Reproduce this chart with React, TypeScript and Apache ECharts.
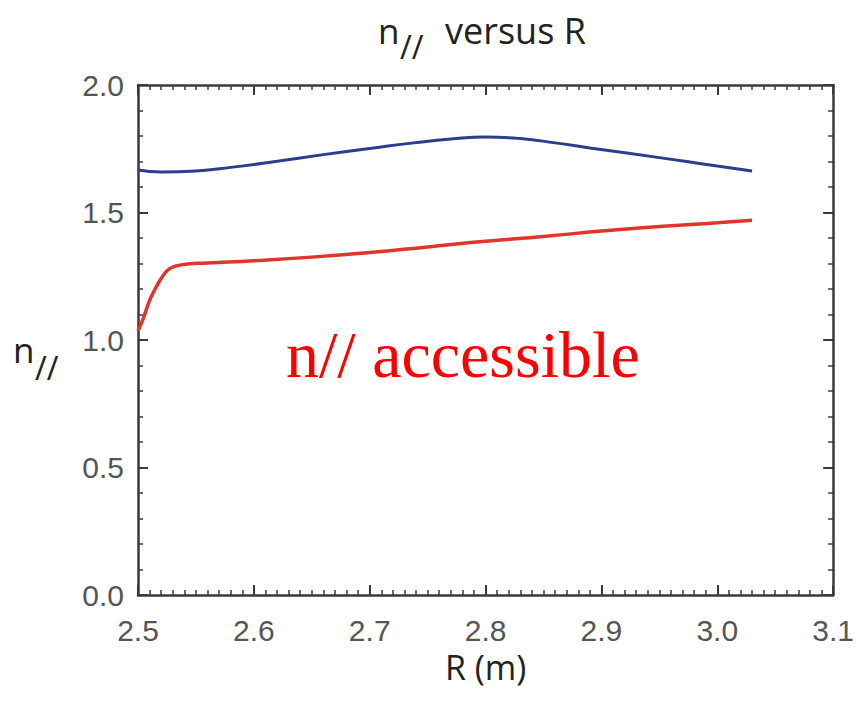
import React, { useEffect, useRef } from "react";
import * as echarts from "echarts";

// Upper (blue) curve: n// versus R
const upperR = [2.5, 2.52, 2.55, 2.58, 2.62, 2.66, 2.7, 2.74, 2.77, 2.8, 2.83, 2.86, 2.89, 2.925, 2.975, 3.0, 3.03];
const upperN = [1.667, 1.659, 1.663, 1.677, 1.701, 1.727, 1.751, 1.774, 1.788, 1.796, 1.79, 1.773, 1.753, 1.731, 1.699, 1.682, 1.663];

// Lower (red) curve: accessibility limit
const lowerR = [2.5, 2.505, 2.51, 2.516, 2.522, 2.527, 2.533, 2.541, 2.56, 2.6, 2.65, 2.7, 2.75, 2.8, 2.85, 2.9, 2.95, 3.0, 3.03];
const lowerN = [1.035, 1.09, 1.155, 1.21, 1.255, 1.279, 1.29, 1.297, 1.302, 1.311, 1.325, 1.343, 1.365, 1.387, 1.406, 1.427, 1.445, 1.46, 1.47];

const xTicks = { min: 2.5, max: 3.1, step: 0.1 };
const yTicks = { min: 0, max: 2.0, step: 0.5 };

const titleMain = "n";
const titleSub = "//";
const titleRest = "versus R";
const xName = "R (m)";
const yNameMain = "n";
const yNameSub = "//";
const noteText = "n// accessible";

const AXIS_COLOR = "#3a3a3a";
const LABEL_COLOR = "#555";
const SANS = '"Open Sans", "Liberation Sans", sans-serif';

const pairs = (xs: number[], ys: number[]) => xs.map((x, i) => [x, ys[i]]);

function axisStyle(showLabels: boolean, minorSplit: number) {
  return {
    axisLine: { show: true, onZero: false, lineStyle: { color: AXIS_COLOR, width: 2.5 } },
    axisTick: { show: true, inside: true, length: 10, lineStyle: { color: AXIS_COLOR, width: 2 } },
    minorTick: { show: true, splitNumber: minorSplit, length: 5, lineStyle: { color: AXIS_COLOR, width: 1.5 } },
    splitLine: { show: false },
    minorSplitLine: { show: false },
    axisLabel: {
      show: showLabels,
      fontSize: 30,
      fontFamily: '"Liberation Sans", sans-serif',
      color: LABEL_COLOR,
      formatter: (v: number) => v.toFixed(1),
    },
  };
}

export default function App() {
  const ref = useRef<HTMLDivElement>(null);

  useEffect(() => {
    if (!ref.current) return;
    const chart = echarts.init(ref.current, null, { renderer: "svg" });
    const xBase = axisStyle(true, 10);
    const yBase = axisStyle(true, 5);
    chart.setOption({
      animation: false,
      backgroundColor: "#fff",
      grid: { left: 138, right: 11, top: 85, bottom: 110, containLabel: false },
      xAxis: [
        {
          type: "value",
          position: "bottom",
          min: xTicks.min,
          max: xTicks.max,
          interval: xTicks.step,
          ...xBase,
          axisLabel: { ...xBase.axisLabel, margin: 20 },
          name: xName,
          nameLocation: "middle",
          nameGap: 44,
          nameTextStyle: { fontSize: 34, fontFamily: SANS, color: "#222", verticalAlign: "top" },
        },
        {
          type: "value",
          position: "top",
          min: xTicks.min,
          max: xTicks.max,
          interval: xTicks.step,
          ...axisStyle(false, 10),
        },
      ],
      yAxis: [
        {
          type: "value",
          position: "left",
          min: yTicks.min,
          max: yTicks.max,
          interval: yTicks.step,
          ...yBase,
          axisLabel: { ...yBase.axisLabel, margin: 14 },
        },
        {
          type: "value",
          position: "right",
          min: yTicks.min,
          max: yTicks.max,
          interval: yTicks.step,
          ...axisStyle(false, 5),
        },
      ],
      series: [
        {
          type: "line",
          data: pairs(upperR, upperN),
          showSymbol: false,
          smooth: 0.5,
          lineStyle: { color: "#2b3d8e", width: 3 },
          xAxisIndex: 0,
          yAxisIndex: 0,
        },
        {
          type: "line",
          data: pairs(lowerR, lowerN),
          showSymbol: false,
          smooth: 0.5,
          lineStyle: { color: "#e0352c", width: 3.5 },
          xAxisIndex: 0,
          yAxisIndex: 0,
        },
      ],
      graphic: [
        {
          type: "text",
          x: 378,
          y: 30,
          style: { text: titleMain, fontSize: 35, fontFamily: SANS, fill: "#222", verticalAlign: "middle", align: "left" },
        },
        {
          type: "text",
          x: 400,
          y: 46,
          style: { text: titleSub, fontSize: 32, fontFamily: SANS, fill: "#222", verticalAlign: "middle", align: "left" },
        },
        {
          type: "text",
          x: 445,
          y: 30,
          style: { text: titleRest, fontSize: 36, fontFamily: SANS, fill: "#222", verticalAlign: "middle", align: "left" },
        },
        {
          type: "text",
          x: 13,
          y: 349,
          style: { text: yNameMain, fontSize: 35, fontFamily: SANS, fill: "#222", verticalAlign: "middle", align: "left" },
        },
        {
          type: "text",
          x: 35,
          y: 367,
          style: { text: yNameSub, fontSize: 32, fontFamily: SANS, fill: "#222", verticalAlign: "middle", align: "left" },
        },
        {
          type: "text",
          x: 286,
          y: 354,
          style: {
            text: noteText,
            fontSize: 66,
            fontFamily: '"Liberation Serif", "Times New Roman", serif',
            fill: "#ff0000",
            verticalAlign: "middle",
            align: "left",
          },
        },
      ],
    });
    return () => chart.dispose();
  }, []);

  return <div ref={ref} style={{ position: "fixed", left: 0, top: 0, width: 857, height: 705 }} />;
}
